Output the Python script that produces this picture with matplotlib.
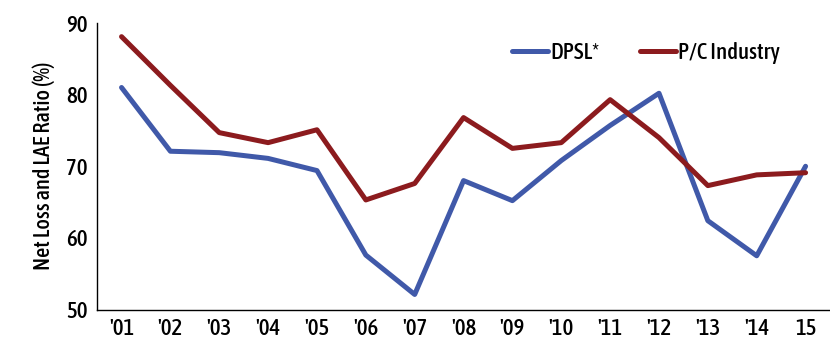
import matplotlib
matplotlib.use("Agg")
import matplotlib.pyplot as plt
from matplotlib import font_manager

years = ["'01", "'02", "'03", "'04", "'05", "'06", "'07", "'08", "'09", "'10",
         "'11", "'12", "'13", "'14", "15"]
dpsl = [81.0, 72.1, 71.9, 71.1, 69.4, 57.6, 52.1, 68.0, 65.2, 70.8, 75.7, 80.2, 62.4, 57.5, 70.0]
pc_industry = [88.1, 81.3, 74.7, 73.3, 75.1, 65.3, 67.6, 76.8, 72.5, 73.3, 79.3, 74.0, 67.3, 68.8, 69.1]
yticks = [50, 60, 70, 80, 90]

# look for a condensed sans font
fonts = font_manager.fontManager.ttflist
def is_cond(f):
    return ((('Narrow' in f.name) or ('Condensed' in f.name) or
             (str(f.stretch) in ('condensed', 'semi-condensed', 'extra-condensed')))
            and f.style == 'normal' and 'Mono' not in f.name and 'Serif' not in f.name)
cond = [f for f in fonts if is_cond(f)]
def wt(f):
    w = f.weight
    if isinstance(w, str):
        w = {'normal': 400, 'regular': 400, 'medium': 500, 'bold': 700}.get(w, 400)
    return w
med = [f for f in cond if wt(f) == 500]
reg = [f for f in cond if wt(f) == 400]
pick = med[0] if med else (reg[0] if reg else None)
if pick is not None:
    fpath = pick.fname
    big, leg, lab = 16.5, 16.5, 16
else:
    fpath = None
    plt.rcParams['font.family'] = ['Liberation Sans', 'DejaVu Sans']
    big, leg, lab = 15, 15, 13.5

def fprop(size):
    if fpath is not None:
        return font_manager.FontProperties(fname=fpath, size=size)
    return font_manager.FontProperties(size=size)

fig = plt.figure(figsize=(8.30, 3.39), dpi=100)
ax = fig.add_axes([0.117, 0.087, 0.883, 0.845])

x = list(range(len(years)))
ax.plot(x, dpsl, color='#4059A9', lw=3.6, label='DPSL*', solid_capstyle='round')
ax.plot(x, pc_industry, color='#8C1B1E', lw=3.6, label='P/C Industry', solid_capstyle='round')

ax.set_xlim(-0.5, 14.5)
ax.set_ylim(50, 90)
ax.set_xticks(x)
ax.set_xticklabels(years, fontproperties=fprop(big))
ax.set_yticks(yticks)
ax.set_yticklabels([str(v) for v in yticks], fontproperties=fprop(big))
ax.tick_params(axis='both', length=0, colors='black')
ax.tick_params(axis='x', pad=6)
ax.tick_params(axis='y', pad=7)
for s in ['top', 'right']:
    ax.spines[s].set_visible(False)
for s in ['left', 'bottom']:
    ax.spines[s].set_linewidth(1.0)
    ax.spines[s].set_color('black')
ax.set_ylabel('Net Loss and LAE Ratio (%)', labelpad=8, fontproperties=fprop(lab))

fig.legend(loc='center left', bbox_to_anchor=(0.617, 0.845), ncol=2, frameon=False,
           prop=fprop(leg), handlelength=1.55, handletextpad=0.1, columnspacing=1.8,
           borderaxespad=0, borderpad=0)

fig.savefig('out.png', dpi=100)
